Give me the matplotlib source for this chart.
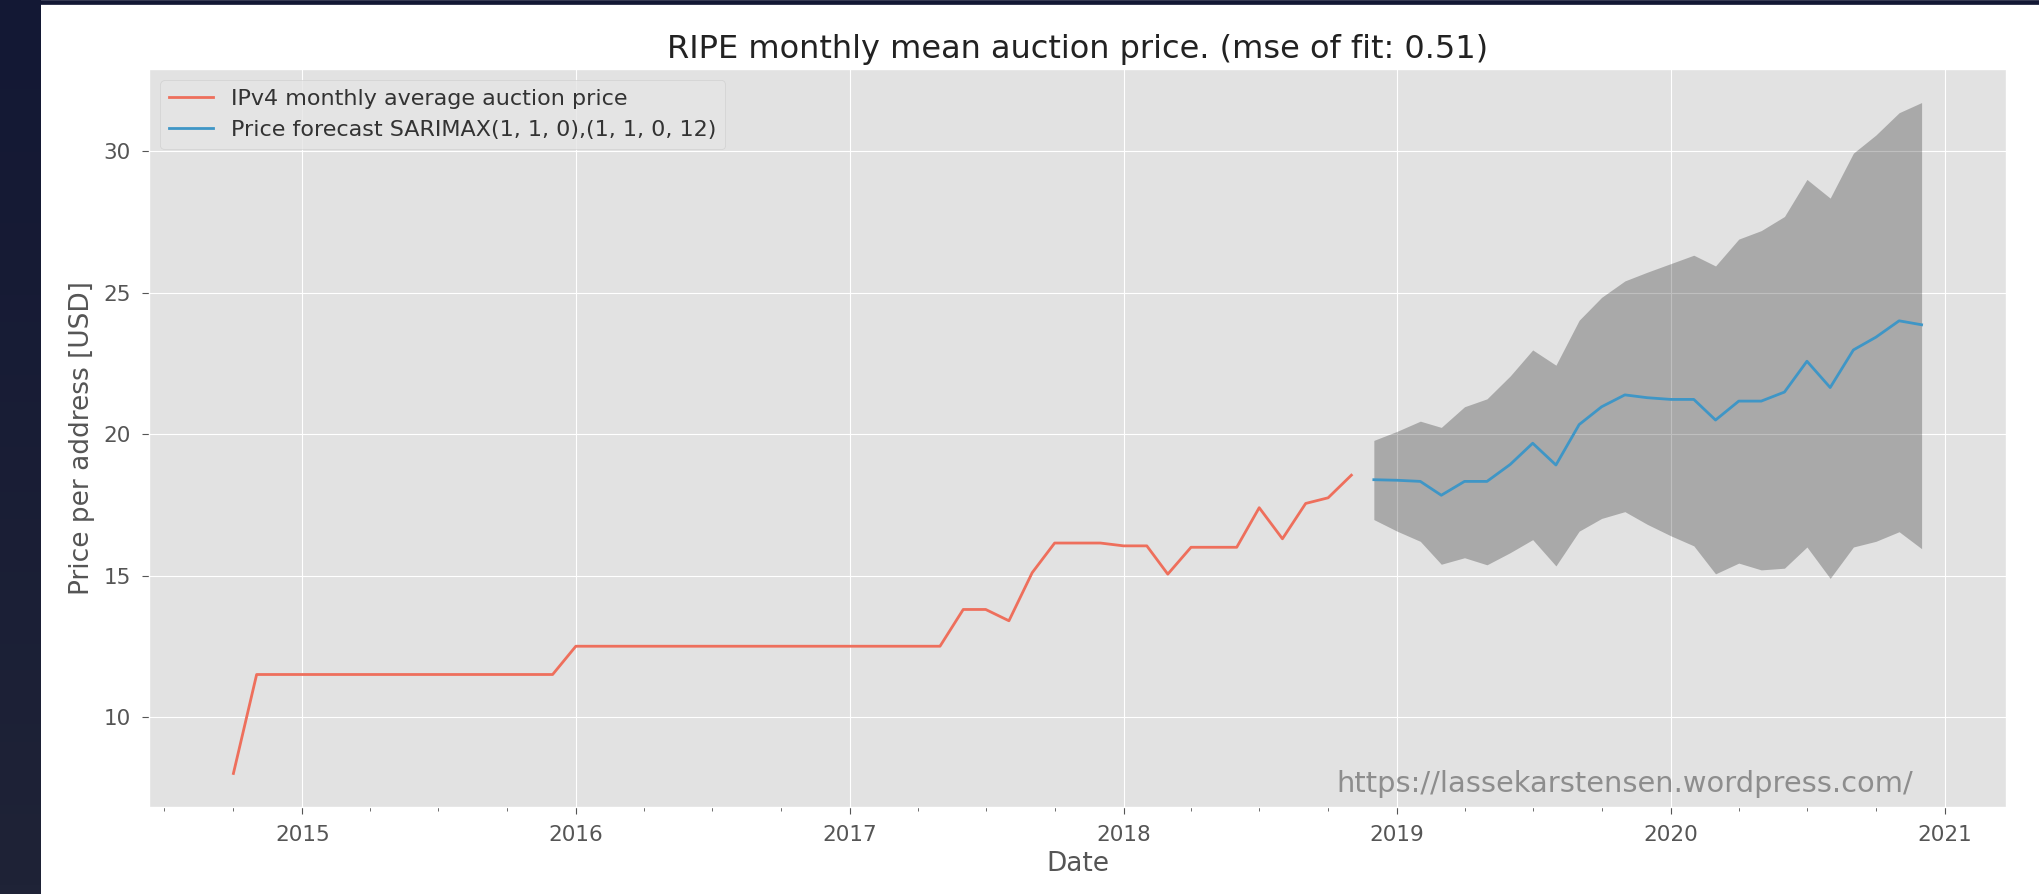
import numpy as np
import pandas as pd
import matplotlib
matplotlib.use('Agg')
from matplotlib import pyplot as plt
import matplotlib.dates as mdates
from matplotlib.colors import LinearSegmentedColormap

# observed monthly mean auction price, Oct 2014 .. Nov 2018
price_dates = pd.date_range('2014-10-01', '2018-11-01', freq='MS')
price = [8.0,
         11.5, 11.5, 11.5, 11.5, 11.5, 11.5, 11.5, 11.5, 11.5, 11.5, 11.5, 11.5, 11.5, 11.5,
         12.5, 12.5, 12.5, 12.5, 12.5, 12.5, 12.5, 12.5, 12.5, 12.5, 12.5, 12.5, 12.5, 12.5,
         12.5, 12.5, 12.5,
         13.8, 13.8, 13.4, 15.1, 16.15, 16.15, 16.15,
         16.05, 16.05, 15.05, 16.0, 16.0, 16.0, 17.4, 16.3, 17.55, 17.75, 18.55]

# forecast Dec 2018 .. Dec 2020
fc_dates = pd.date_range('2018-12-01', '2020-12-01', freq='MS')
fc_mean = [18.39, 18.37, 18.33, 17.84, 18.33, 18.33, 18.93, 19.68, 18.91, 20.34,
           20.97, 21.39, 21.29, 21.23, 21.23, 20.50, 21.17, 21.17, 21.49, 22.58,
           21.65, 22.98, 23.43, 24.01, 23.87]
fc_upper = [19.78, 20.10, 20.46, 20.24, 20.97, 21.25, 22.06, 22.98, 22.44, 24.03,
            24.84, 25.42, 25.73, 26.03, 26.33, 25.95, 26.90, 27.20, 27.70, 29.01,
            28.35, 29.94, 30.58, 31.37, 31.73]
fc_lower = [16.98, 16.57, 16.21, 15.40, 15.63, 15.38, 15.81, 16.27, 15.34, 16.57,
            17.02, 17.26, 16.81, 16.41, 16.05, 15.06, 15.44, 15.20, 15.26, 16.01,
            14.90, 16.01, 16.21, 16.55, 15.95]

mse = 0.51

plt.style.use('ggplot')
plt.rcParams['font.size'] = 15.5

fig = plt.figure(figsize=(20.4, 8.94), dpi=100)

# dark screenshot border on the left and top
strip = fig.add_axes([0, 0, 41/2040, 1])
cmap = LinearSegmentedColormap.from_list('strip', ['#131834', '#1f2337'])
strip.imshow(np.linspace(0, 1, 100).reshape(-1, 1), aspect='auto', cmap=cmap)
strip.set_axis_off()
fig.patches.append(plt.Rectangle((0, 1 - 4/894), 1, 4/894, transform=fig.transFigure,
                                 color='#131834', zorder=0))

ax = fig.add_axes([149/2040, 1 - 807/894, (2006 - 149)/2040, (807 - 69)/894])
ax.set_facecolor('#E2E2E2')
ax.plot(price_dates, price, color='#EE6F5C', lw=2, label='IPv4 monthly average auction price')
ax.plot(fc_dates, fc_mean, color='#3F96C6', lw=2,
        label='Price forecast SARIMAX(1, 1, 0),(1, 1, 0, 12)')
ax.fill_between(fc_dates, fc_lower, fc_upper, color='k', alpha=0.25, lw=0)

ax.xaxis.set_major_locator(mdates.YearLocator())
ax.xaxis.set_major_formatter(mdates.DateFormatter('%Y'))
ax.xaxis.set_minor_locator(mdates.MonthLocator(bymonth=[1, 4, 7, 10]))
ax.tick_params(which='major', length=5, pad=8, color='#555555')
ax.tick_params(axis='x', which='minor', length=3, color='#555555')

ax.set_title('RIPE monthly mean auction price. (mse of fit: %.2f)' % mse,
             fontsize=23, color='#222222', pad=8)
ax.set_xlabel('Date', fontsize=19)
ax.set_ylabel('Price per address [USD]', fontsize=19, labelpad=6)
leg = ax.legend(loc='upper left', fontsize=16)
for t in leg.get_texts():
    t.set_color('#333333')
ax.text(0.95, 0.012, 'https://lassekarstensen.wordpress.com/', transform=ax.transAxes,
        ha='right', va='bottom', fontsize=20.8, color='#555555', alpha=0.6)

plt.savefig('out.png', dpi=100)
